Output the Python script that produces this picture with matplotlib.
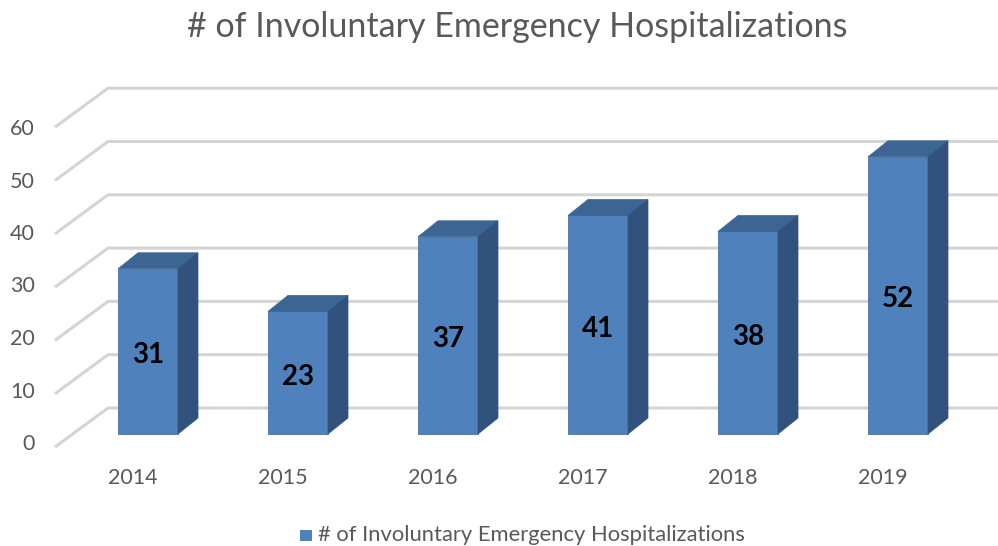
import matplotlib
matplotlib.use('Agg')
import matplotlib.pyplot as plt
from matplotlib.patches import Polygon, Rectangle

years = ['2014', '2015', '2016', '2017', '2018', '2019']
counts = [31, 23, 37, 41, 38, 52]
yticks = [0, 10, 20, 30, 40, 50, 60]
title = '# of Involuntary Emergency Hospitalizations'

plt.rcParams['font.family'] = ['Lato', 'DejaVu Sans']

W, H = 998, 546
PX_X = 150.0   # pixels per category
PX_Y = 5.33    # pixels per unit
X0, Y0 = 148, 434  # pixel of category 0, value 0 (bar front plane)

def px(dx):
    return dx / PX_X

def py(dy):
    return dy / PX_Y

fig = plt.figure(figsize=(W / 100, H / 100), dpi=100)
ax = fig.add_axes([0, 0, 1, 1])
ax.set_xlim(-X0 / PX_X, (W - X0) / PX_X)
ax.set_ylim((Y0 - H) / PX_Y, Y0 / PX_Y)
ax.axis('off')

grid_c = '#d4d4d4'
# gridlines: front edge -> back wall -> right
for v in yticks:
    xs = [px(55 - X0), px(108 - X0), px(W - X0) + 1]
    ys = [v - py(13), v + py(26), v + py(26)]
    ax.plot(xs, ys, color=grid_c, lw=2.2, solid_capstyle='butt', zorder=1)
    ax.text(px(35 - X0), py(Y0 - 444 + 5.25 * v), str(v), ha='right', va='center',
            fontsize=15.5, color='#595959')

bw = px(60)
ddx, ddy = px(20), py(16)
front_c, top_c, side_c = '#4f81bd', '#3d6594', '#31527c'
ax.bar(range(len(years)), counts, width=bw, color=front_c, zorder=3,
       edgecolor='#46729f', linewidth=0.6)
for i, v in enumerate(counts):
    l, r = i - bw / 2, i + bw / 2
    ax.add_patch(Polygon([(l, v), (r, v), (r + ddx, v + ddy), (l + ddx, v + ddy)],
                         closed=True, facecolor=top_c, edgecolor=top_c, lw=0.5, zorder=3))
    ax.add_patch(Polygon([(r, 0), (r, v), (r + ddx, v + ddy), (r + ddx, ddy)],
                         closed=True, facecolor=side_c, edgecolor=side_c, lw=0.5, zorder=3))
    ax.text(i, v / 2 - py(4), str(v), ha='center', va='center', fontsize=20,
            fontweight='bold', color='black', zorder=4)
    ax.text(i - px(15), -py(478 - Y0), years[i], ha='center', va='center',
            fontsize=15.5, color='#595959')

fig.text(517 / W, 1 - 27 / H, title, ha='center', va='center', fontsize=24.5, color='#595959')

# legend
ax.add_patch(Rectangle((px(300 - X0), -py(541 - Y0)), px(12), py(11),
                       facecolor=front_c, edgecolor='none', clip_on=False))
fig.text(318 / W, 1 - 535 / H, title, ha='left', va='center', fontsize=15.8, color='#595959')

fig.savefig('out.png', dpi=100)
